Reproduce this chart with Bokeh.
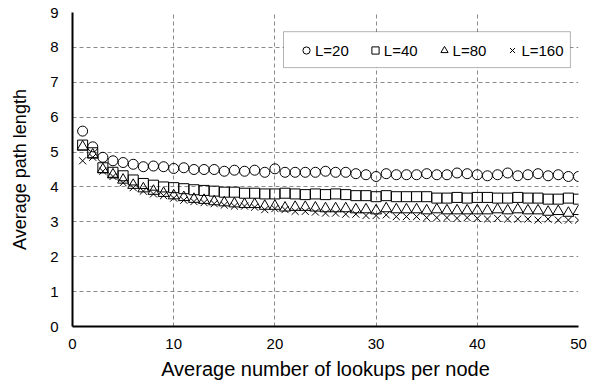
from bokeh.plotting import figure
from bokeh.models import Range1d, FixedTicker, Legend, LegendItem, BoxAnnotation
from bokeh.embed import file_html
from bokeh.resources import INLINE

lookups = list(range(1, 51))

len_L20 = [5.60, 5.15, 4.85, 4.75, 4.70, 4.65, 4.58, 4.60, 4.58, 4.53,
           4.55, 4.50, 4.50, 4.50, 4.45, 4.48, 4.45, 4.48, 4.42, 4.52,
           4.42, 4.42, 4.42, 4.42, 4.45, 4.42, 4.42, 4.38, 4.35, 4.30,
           4.38, 4.35, 4.35, 4.35, 4.38, 4.35, 4.35, 4.40, 4.38, 4.35,
           4.32, 4.35, 4.40, 4.32, 4.35, 4.38, 4.32, 4.35, 4.30, 4.30]

len_L40 = [5.20, 4.98, 4.55, 4.42, 4.32, 4.20, 4.10, 4.05, 4.00, 3.98,
           3.95, 3.92, 3.90, 3.88, 3.85, 3.85, 3.82, 3.82, 3.80, 3.80,
           3.82, 3.80, 3.78, 3.80, 3.78, 3.80, 3.78, 3.75, 3.75, 3.72,
           3.75, 3.72, 3.72, 3.72, 3.72, 3.68, 3.68, 3.70, 3.68, 3.70,
           3.70, 3.68, 3.68, 3.70, 3.68, 3.68, 3.65, 3.65, 3.68, 3.65]

len_L80 = [5.15, 4.92, 4.50, 4.35, 4.20, 4.05, 3.95, 3.88, 3.82, 3.75,
           3.70, 3.65, 3.62, 3.58, 3.55, 3.52, 3.50, 3.50, 3.45, 3.45,
           3.40, 3.42, 3.42, 3.40, 3.38, 3.38, 3.38, 3.35, 3.35, 3.32,
           3.38, 3.35, 3.35, 3.35, 3.32, 3.35, 3.32, 3.32, 3.32, 3.32,
           3.32, 3.35, 3.32, 3.35, 3.32, 3.32, 3.28, 3.30, 3.25, 3.30]

len_L160 = [4.75, 4.85, 4.45, 4.30, 4.12, 3.98, 3.88, 3.80, 3.75, 3.68,
            3.62, 3.58, 3.55, 3.52, 3.48, 3.45, 3.45, 3.42, 3.35, 3.38,
            3.35, 3.30, 3.30, 3.28, 3.25, 3.25, 3.22, 3.22, 3.18, 3.18,
            3.20, 3.15, 3.15, 3.15, 3.12, 3.12, 3.12, 3.10, 3.12, 3.10,
            3.08, 3.10, 3.08, 3.08, 3.08, 3.05, 3.08, 3.05, 3.05, 3.05]

series_labels = ["L=20", "L=40", "L=80", "L=160"]
x_ticks = [0, 10, 20, 30, 40, 50]
y_ticks = [0, 1, 2, 3, 4, 5, 6, 7, 8, 9]

FONT = "Liberation Sans"

p = figure(width=590, height=389, output_backend="svg", toolbar_location=None,
           x_range=Range1d(0, 50), y_range=Range1d(0, 9),
           min_border_left=72, min_border_right=12, min_border_top=12,
           min_border_bottom=63)

p.outline_line_color = None
p.background_fill_color = "white"

for ax in (p.xaxis[0], p.yaxis[0]):
    ax.axis_line_color = "black"
    ax.axis_line_width = 2
    ax.major_tick_in = 0
    ax.major_tick_out = 0
    ax.minor_tick_in = 0
    ax.minor_tick_out = 0
    ax.major_label_text_font = FONT
    ax.major_label_text_font_size = "15px"
    ax.major_label_text_color = "black"
    ax.axis_label_text_font = FONT
    ax.axis_label_text_font_style = "normal"
    ax.axis_label_text_color = "black"

p.xaxis.axis_label_text_font_size = "20px"
p.yaxis.axis_label_text_font_size = "18px"

p.xaxis.ticker = FixedTicker(ticks=x_ticks)
p.yaxis.ticker = FixedTicker(ticks=y_ticks)
p.xaxis.axis_label = "Average number of lookups per node"
p.yaxis.axis_label = "Average path length"
p.xaxis.major_label_standoff = 12
p.xaxis.axis_label_standoff = 6
p.yaxis.major_label_standoff = 14
p.yaxis.axis_label_standoff = 17

for g in (p.xgrid[0], p.ygrid[0]):
    g.grid_line_color = "#8a8a8a"
    g.grid_line_dash = "4 3"
    g.grid_line_width = 1

common = dict(fill_color=None, line_color="black", line_width=1)
r1 = p.scatter(lookups, len_L20, marker="circle", size=10, **common)
r2 = p.scatter(lookups, len_L40, marker="square", size=10, **common)
r3 = p.scatter(lookups, len_L80, marker="triangle", size=11, **common)
r4 = p.scatter(lookups, len_L160, marker="x", size=10, **common)

box = BoxAnnotation(left=20.85, right=49.2, top=8.45, bottom=7.42,
                    fill_color="white", fill_alpha=1.0,
                    line_color="black", line_width=1)
p.add_layout(box)

legend = Legend(items=[LegendItem(label=lab, renderers=[r])
                       for lab, r in zip(series_labels, [r1, r2, r3, r4])],
                location=(225, 267), orientation="horizontal",
                glyph_width=18, glyph_height=18, label_standoff=-3,
                spacing=17, padding=0, margin=0,
                border_line_color=None, background_fill_alpha=0,
                label_text_font=FONT, label_text_font_size="15px",
                label_text_color="black")
p.add_layout(legend)

open("out.html", "w").write(file_html(p, INLINE))
